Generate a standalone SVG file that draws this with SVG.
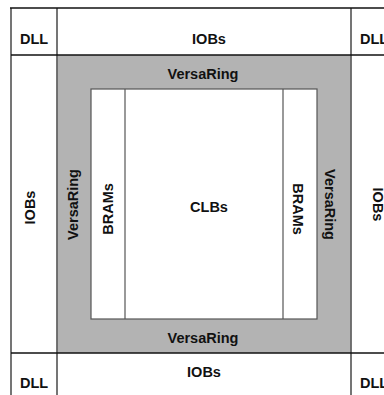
<svg xmlns="http://www.w3.org/2000/svg" width="384" height="395" viewBox="0 0 384 395">
<style>
text{font-family:"Liberation Sans",Arial,sans-serif;font-weight:bold;font-size:14.5px;fill:#111}
.h{stroke:#111;stroke-width:1.5}
.v{stroke:#666;stroke-width:1.8}
.in{fill:#fff;stroke:#555;stroke-width:1.2}
</style>
<rect width="384" height="395" fill="#fff"/>
<g id="versaring">
<rect x="57" y="55" width="294" height="298" fill="#b3b3b3"/>
<text x="203" y="79" text-anchor="middle">VersaRing</text>
<text x="203" y="343" text-anchor="middle">VersaRing</text>
<text transform="translate(78,204.5) rotate(-90)" text-anchor="middle">VersaRing</text>
<text transform="translate(325,204.5) rotate(90)" text-anchor="middle">VersaRing</text>
</g>
<g id="clbs">
<rect class="in" x="91" y="89" width="226" height="230"/>
<text x="209" y="212" text-anchor="middle">CLBs</text>
</g>
<g id="brams-left">
<line class="in" x1="125" y1="89" x2="125" y2="319"/>
<text transform="translate(113,209) rotate(-90)" text-anchor="middle">BRAMs</text>
</g>
<g id="brams-right">
<line class="in" x1="283" y1="89" x2="283" y2="319"/>
<text transform="translate(293,209) rotate(90)" text-anchor="middle">BRAMs</text>
</g>
<g id="grid">
<line class="v" x1="11" y1="8" x2="11" y2="395"/>
<line class="v" x1="57" y1="8" x2="57" y2="395"/>
<line class="v" x1="351" y1="8" x2="351" y2="395"/>
<line class="h" x1="10" y1="8" x2="384" y2="8"/>
<line class="h" x1="11" y1="55" x2="384" y2="55"/>
<line class="h" x1="11" y1="353" x2="384" y2="353"/>
</g>
<g id="iobs-top"><text x="209" y="44" text-anchor="middle">IOBs</text></g>
<g id="iobs-bottom"><text x="204" y="377" text-anchor="middle">IOBs</text></g>
<g id="iobs-left"><text transform="translate(35,207.5) rotate(-90)" text-anchor="middle">IOBs</text></g>
<g id="iobs-right"><text transform="translate(373,204.5) rotate(90)" text-anchor="middle">IOBs</text></g>
<g id="dll-tl"><text x="34" y="44" text-anchor="middle">DLL</text></g>
<g id="dll-tr"><text x="360" y="44">DLL</text></g>
<g id="dll-bl"><text x="34" y="388" text-anchor="middle">DLL</text></g>
<g id="dll-br"><text x="360" y="388">DLL</text></g>
</svg>
